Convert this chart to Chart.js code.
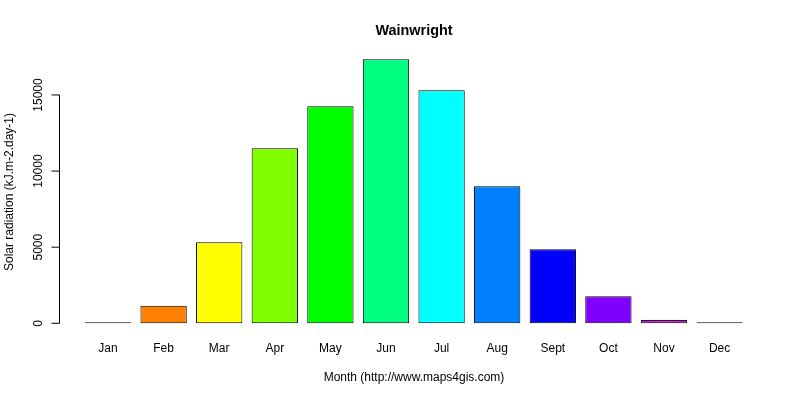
<!DOCTYPE html>
<html>
<head>
<meta charset="utf-8">
<script src="https://cdn.jsdelivr.net/npm/chart.js@4/dist/chart.umd.min.js"></script>
<style>
  html, body { margin: 0; padding: 0; background: #ffffff; }
  #wrap { width: 800px; height: 400px; }
</style>
</head>
<body>
<div id="wrap"><canvas id="c" width="800" height="400"></canvas></div>
<script>
const months = ["Jan","Feb","Mar","Apr","May","Jun","Jul","Aug","Sept","Oct","Nov","Dec"];
const radiation = [15, 1160, 5320, 11500, 14260, 17350, 15310, 9000, 4860, 1775, 210, 10];
const barColors = ["#FF0000","#FF8000","#FFFF00","#80FF00","#00FF00","#00FF80","#00FFFF","#0080FF","#0000FF","#8000FF","#FF00FF","#FF0080"];
const yTicks = [0, 5000, 10000, 15000];
const chartTitle = "Wainwright";
const xTitle = "Month (http://www.maps4gis.com)";
const yTitle = "Solar radiation (kJ.m-2.day-1)";

const FONT = '"Liberation Sans", Arial, Helvetica, sans-serif';

const rAxes = {
  id: 'rAxes',
  afterDraw(chart) {
    const ctx = chart.ctx;
    const ys = chart.scales.y, xs = chart.scales.x;
    const axisX = 59.5;
    ctx.save();
    ctx.strokeStyle = '#000';
    ctx.fillStyle = '#000';
    ctx.lineWidth = 1;
    ctx.beginPath();
    ctx.moveTo(axisX, ys.getPixelForValue(yTicks[0]));
    ctx.lineTo(axisX, ys.getPixelForValue(yTicks[yTicks.length - 1]));
    ctx.stroke();
    ctx.font = '12px ' + FONT;
    ctx.textAlign = 'center';
    ctx.textBaseline = 'middle';
    yTicks.forEach(v => {
      const py = ys.getPixelForValue(v);
      ctx.beginPath();
      ctx.moveTo(axisX, py);
      ctx.lineTo(axisX - 8, py);
      ctx.stroke();
      ctx.save();
      ctx.translate(39, py);
      ctx.rotate(-Math.PI / 2);
      ctx.fillText(String(v), 0, 0);
      ctx.restore();
    });
    months.forEach((m, i) => {
      ctx.fillText(m, xs.getPixelForValue(i), 349);
    });
    ctx.fillText(xTitle, 414, 378);
    ctx.save();
    ctx.translate(10, 192);
    ctx.rotate(-Math.PI / 2);
    ctx.fillText(yTitle, 0, 0);
    ctx.restore();
    ctx.font = 'bold 14.4px ' + FONT;
    ctx.fillText(chartTitle, 414, 31);
    ctx.restore();
  }
};

new Chart(document.getElementById('c'), {
  type: 'bar',
  data: {
    labels: months,
    datasets: [{
      data: radiation,
      backgroundColor: barColors,
      borderColor: '#000000',
      borderWidth: 1,
      borderSkipped: false,
      barPercentage: 0.833,
      categoryPercentage: 1.0,
      minBarLength: 1
    }]
  },
  options: {
    responsive: false,
    animation: false,
    devicePixelRatio: 1,
    layout: { padding: { left: 80.2, right: 52.6, top: 49.3, bottom: 66.05 } },
    plugins: { legend: { display: false }, title: { display: false }, tooltip: { enabled: false } },
    scales: {
      x: { display: false, offset: true },
      y: { display: false, min: -700, max: 18000 }
    }
  },
  plugins: [rAxes]
});
</script>
</body>
</html>
